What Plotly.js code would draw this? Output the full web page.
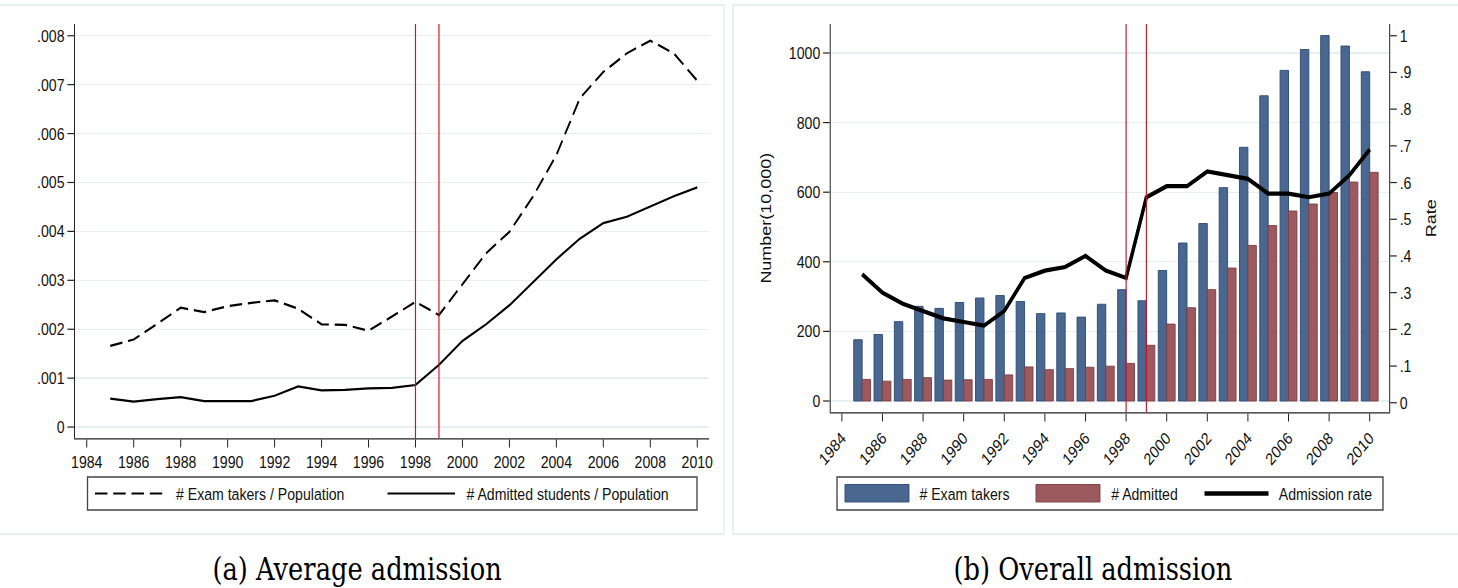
<!DOCTYPE html>
<html>
<head>
<meta charset="utf-8">
<script src="https://cdn.plot.ly/plotly-3.0.1.min.js"></script>
<style>
html,body{margin:0;padding:0;background:#fff;width:1458px;height:588px;overflow:hidden}
#wrap{width:1458px;height:588px;overflow:hidden;position:relative}
#chart{width:1757px;height:588px;transform:scaleX(0.829823);transform-origin:0 0;position:absolute;left:0;top:0}
</style>
</head>
<body>
<div id="wrap"><div id="chart"></div></div>
<script>
// ---------- data ----------
var years = [1985,1986,1987,1988,1989,1990,1991,1992,1993,1994,1995,1996,1997,1998,1999,2000,2001,2002,2003,2004,2005,2006,2007,2008,2009,2010];
var examPerPop = [0.00166,0.00179,0.00211,0.00244,0.00235,0.00247,0.00254,0.00259,0.00242,0.00210,0.00209,0.00197,0.00226,0.00256,0.00229,0.00293,0.00355,0.00399,0.00471,0.00556,0.00672,0.00726,0.00764,0.00790,0.00764,0.00708];
var admPerPop = [0.00058,0.00052,0.00057,0.00061,0.00053,0.00053,0.00053,0.00064,0.00083,0.00075,0.00076,0.00079,0.00080,0.00086,0.00127,0.00176,0.00210,0.00249,0.00297,0.00343,0.00385,0.00417,0.00430,0.00451,0.00472,0.00490];
var examTakers = [176,191,228,272,266,283,296,303,286,251,253,241,278,320,288,375,454,510,613,729,877,950,1010,1050,1020,946];
var admitted = [62,57,62,67,60,61,62,75,98,90,93,97,100,108,160,221,268,320,382,447,504,546,566,599,629,657];
var admRate = [0.35,0.30,0.27,0.25,0.23,0.22,0.21,0.25,0.34,0.36,0.37,0.40,0.36,0.34,0.56,0.59,0.59,0.63,0.62,0.61,0.57,0.57,0.56,0.57,0.62,0.69];
var reformYears = [1998,1999];
var xTickVals = [1984,1986,1988,1990,1992,1994,1996,1998,2000,2002,2004,2006,2008,2010];
var xTickText = ["1984","1986","1988","1990","1992","1994","1996","1998","2000","2002","2004","2006","2008","2010"];
var yLeftTickVals = [0,0.001,0.002,0.003,0.004,0.005,0.006,0.007,0.008];
var yLeftTickText = ["0",".001",".002",".003",".004",".005",".006",".007",".008"];
var yNumTickVals = [0,200,400,600,800,1000];
var yNumTickText = ["0","200","400","600","800","1000"];
var yRateTickVals = [0,0.1,0.2,0.3,0.4,0.5,0.6,0.7,0.8,0.9,1];
var yRateTickText = ["0",".1",".2",".3",".4",".5",".6",".7",".8",".9","1"];
var legendLeft = ["# Exam takers / Population","# Admitted students / Population"];
var legendRight = ["# Exam takers","# Admitted","Admission rate"];
var captions = ["(a) Average admission","(b) Overall admission"];

// ---------- helpers (positions measured on the final 1458x588 picture) ----------
var W = 1458, H = 588, RW = 1757;
function X(px){ return px / W; }
function Y(py){ return 1 - py / H; }
var SANS = "Liberation Sans, Arial, sans-serif";
var SERIF = "DejaVu Serif, Liberation Serif, serif";
var BLUE = "#4a6790", BLUE_LINE = "#2c4a74";
var RED = "#9d5a5e", RED_LINE = "#7e3d43";
var GRID = "#e6eff1";
var VRED = "#c8152a";

var traces = [
  {x: years, y: examPerPop, type: "scatter", mode: "lines", xaxis: "x", yaxis: "y",
   line: {color: "#000", width: 2.2, dash: "15px,7px"}, name: legendLeft[0], showlegend: false},
  {x: years, y: admPerPop, type: "scatter", mode: "lines", xaxis: "x", yaxis: "y",
   line: {color: "#000", width: 2.2}, name: legendLeft[1], showlegend: false},
  {x: years, y: examTakers, type: "bar", xaxis: "x2", yaxis: "y2",
   marker: {color: BLUE, line: {color: BLUE_LINE, width: 1}}, name: legendRight[0], showlegend: false},
  {x: years, y: admitted, type: "bar", xaxis: "x2", yaxis: "y2",
   marker: {color: RED, line: {color: RED_LINE, width: 1}}, name: legendRight[1], showlegend: false},
  {x: years, y: admRate, type: "scatter", mode: "lines", xaxis: "x2", yaxis: "y3",
   line: {color: "#000", width: 4.2}, name: legendRight[2], showlegend: false}
];

var tickFont = {family: SANS, size: 17, color: "#111"};
var axCommon = {showline: true, linecolor: "#222", linewidth: 1.2, ticks: "outside", ticklen: 8,
  tickcolor: "#222", tickwidth: 1.2, zeroline: false, tickfont: tickFont, fixedrange: true};

var shapes = [];
reformYears.forEach(function(yr){
  shapes.push({type: "line", xref: "x", yref: "y domain", x0: yr, x1: yr, y0: 0, y1: 1,
    line: {color: VRED, width: 1.4}, layer: "above"});
  shapes.push({type: "line", xref: "x2", yref: "y2 domain", x0: yr, x1: yr, y0: 0, y1: 1,
    line: {color: VRED, width: 1.4}, layer: "above"});
});
// panel frames
shapes.push({type: "rect", xref: "paper", yref: "paper", x0: X(-2), x1: X(724), y0: Y(534), y1: Y(5),
  line: {color: "#e2ebee", width: 1.6}, layer: "below"});
shapes.push({type: "rect", xref: "paper", yref: "paper", x0: X(733), x1: X(1462), y0: Y(534), y1: Y(5),
  line: {color: "#e2ebee", width: 1.6}, layer: "below"});
// legend boxes
shapes.push({type: "rect", xref: "paper", yref: "paper", x0: X(87.5), x1: X(697), y0: Y(510), y1: Y(477),
  line: {color: "#444", width: 1.6}, fillcolor: "#fff"});
shapes.push({type: "rect", xref: "paper", yref: "paper", x0: X(837), x1: X(1383), y0: Y(510), y1: Y(477),
  line: {color: "#444", width: 1.6}, fillcolor: "#fff"});
// legend keys
var LY = 493.5;
shapes.push({type: "line", xref: "paper", yref: "paper", x0: X(95), x1: X(164), y0: Y(LY), y1: Y(LY),
  line: {color: "#000", width: 2.2, dash: "15px,7px"}});
shapes.push({type: "line", xref: "paper", yref: "paper", x0: X(387.5), x1: X(455), y0: Y(LY), y1: Y(LY),
  line: {color: "#000", width: 2.2}});
shapes.push({type: "rect", xref: "paper", yref: "paper", x0: X(845), x1: X(909), y0: Y(502), y1: Y(484.5),
  line: {color: BLUE_LINE, width: 1}, fillcolor: BLUE});
shapes.push({type: "rect", xref: "paper", yref: "paper", x0: X(1036), x1: X(1100), y0: Y(502), y1: Y(484.5),
  line: {color: RED_LINE, width: 1}, fillcolor: RED});
shapes.push({type: "line", xref: "paper", yref: "paper", x0: X(1204.5), x1: X(1268.5), y0: Y(LY), y1: Y(LY),
  line: {color: "#000", width: 4.4}});

var legFont = {family: SANS, size: 17, color: "#111"};
function lab(txt, px, py){
  return {text: txt, xref: "paper", yref: "paper", x: X(px), y: Y(py), xanchor: "left", yanchor: "middle",
    showarrow: false, font: legFont};
}
var annotations = [
  lab(legendLeft[0], 174, LY + 1), lab(legendLeft[1], 465, LY + 1),
  lab(legendRight[0], 917.5, LY + 1), lab(legendRight[1], 1109.5, LY + 1), lab(legendRight[2], 1277.5, LY + 1),
  {text: captions[0], xref: "paper", yref: "paper", x: X(357), y: Y(569), xanchor: "center", yanchor: "middle",
   showarrow: false, font: {family: SERIF, size: 31, color: "#000"}},
  {text: captions[1], xref: "paper", yref: "paper", x: X(1093), y: Y(569), xanchor: "center", yanchor: "middle",
   showarrow: false, font: {family: SERIF, size: 31, color: "#000"}}
];

var titleFont = {family: SANS, size: 18, color: "#111"};
var layout = {
  width: RW, height: H, autosize: false,
  margin: {l: 0, r: 0, t: 0, b: 0, pad: 0},
  paper_bgcolor: "#fff", plot_bgcolor: "#fff",
  showlegend: false,
  barmode: "group", bargap: 0.17, bargroupgap: 0,
  xaxis: Object.assign({}, axCommon, {domain: [X(75), X(709)], range: [1983.5, 2010.5],
    tickvals: xTickVals, ticktext: xTickText, showgrid: false, anchor: "y"}),
  yaxis: Object.assign({}, axCommon, {domain: [Y(438.3), Y(24)], range: [-0.00023, 0.00824],
    tickvals: yLeftTickVals, ticktext: yLeftTickText, showgrid: true, gridcolor: GRID, gridwidth: 1.3,
    anchor: "x", ticklabelstandoff: 0}),
  xaxis2: Object.assign({}, axCommon, {domain: [X(830.7), X(1389.2)], range: [1983.45, 2010.96],
    tickvals: xTickVals, ticktext: xTickText, tickangle: -45, showgrid: false, anchor: "y2"}),
  yaxis2: Object.assign({}, axCommon, {domain: [Y(412.3), Y(24)], range: [-32.5, 1083.3],
    tickvals: yNumTickVals, ticktext: yNumTickText, showgrid: true, gridcolor: GRID, gridwidth: 1.3,
    anchor: "x2", title: {text: "Number(10,000)", font: titleFont, standoff: 16}}),
  yaxis3: Object.assign({}, axCommon, {domain: [Y(412.3), Y(24)], range: [-0.026, 1.032],
    tickvals: yRateTickVals, ticktext: yRateTickText, showgrid: false, overlaying: "y2", side: "right",
    anchor: "x2", title: {text: "Rate", font: titleFont, standoff: 18}}),
  shapes: shapes,
  annotations: annotations
};

Plotly.newPlot("chart", traces, layout, {staticPlot: true, displayModeBar: false});
</script>
</body>
</html>
